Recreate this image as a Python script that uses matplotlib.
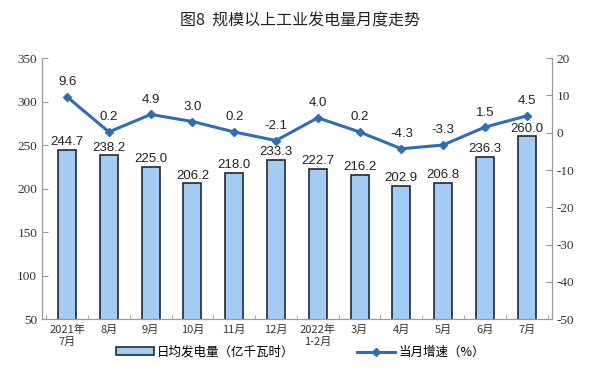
import numpy as np
import matplotlib.pyplot as plt
from matplotlib.ticker import FixedLocator

plt.rcParams['font.family'] = ['Noto Sans CJK SC', 'DejaVu Sans']
plt.rcParams['axes.unicode_minus'] = False

months = ['2021年\n7月', '8月', '9月', '10月', '11月', '12月', '2022年\n1-2月',
          '3月', '4月', '5月', '6月', '7月']
daily_output = [244.7, 238.2, 225.0, 206.2, 218.0, 233.3, 222.7,
                216.2, 202.9, 206.8, 236.3, 260.0]
growth = [9.6, 0.2, 4.9, 3.0, 0.2, -2.1, 4.0, 0.2, -4.3, -3.3, 1.5, 4.5]

cjk = ['Noto Sans CJK SC', 'DejaVu Sans']

fig = plt.figure(figsize=(6.01, 3.85), dpi=100)
ax = fig.add_axes([0.07, 0.171, 0.848, 0.678])
ax2 = ax.twinx()

x = np.arange(len(months))
bars = ax.bar(x, daily_output, width=0.43, color='#a4cbf3', edgecolor='#1f2a36',
              linewidth=1.2, label='日均发电量（亿千瓦时）', zorder=2)
for xi, v in zip(x, daily_output):
    ax.text(xi, v + 2, f'{v:.1f}', ha='center', va='bottom', fontsize=9.5,
            family=['Liberation Sans'], color='#222222')

ax.set_ylim(50, 350)
ax.set_xlim(-0.6, len(months) - 0.4)
ax.set_yticks(range(50, 351, 50))
ax.set_xticks(x)
ax.set_xticklabels(months, family=cjk, fontsize=8, color='#333333')
ax.xaxis.set_minor_locator(FixedLocator(np.arange(-0.5, len(months), 1)))
ax.tick_params(axis='x', which='major', length=0, pad=4)
ax.tick_params(axis='x', which='minor', length=3, direction='in', color='#999999')
ax.tick_params(axis='y', direction='in', length=4, color='#999999', labelsize=9.5,
               labelcolor='#333333', labelfontfamily='Liberation Serif')

line, = ax2.plot(x, growth, color='#2f6db5', linewidth=2.2, marker='D',
                 markersize=4, label='当月增速（%）', zorder=3)
for xi, v in zip(x, growth):
    ax2.text(xi, v + 2.3, f'{v:.1f}', ha='center', va='bottom', fontsize=9.5,
             family=['Liberation Sans'], color='#222222')
ax2.set_ylim(-50, 20)
ax2.set_yticks(range(-50, 21, 10))
ax2.tick_params(axis='y', direction='in', length=4, color='#999999', labelsize=9.5,
                labelcolor='#333333', labelfontfamily='Liberation Serif')

for a in (ax, ax2):
    a.spines['top'].set_visible(False)
    for s in ('left', 'right', 'bottom'):
        a.spines[s].set_color('#999999')
        a.spines[s].set_linewidth(0.8)

fig.text(0.5, 0.945, '图8  规模以上工业发电量月度走势', ha='center', va='center',
         fontsize=11.5, family=cjk, color='#222222', fontweight='medium')

fig.legend(handles=[bars, line], loc='center', bbox_to_anchor=(0.5, 0.085),
           ncol=2, frameon=False, prop={'family': cjk, 'size': 9},
           columnspacing=5, handlelength=3, handleheight=0.6, handletextpad=0.3)

fig.savefig('out.png', dpi=100)
